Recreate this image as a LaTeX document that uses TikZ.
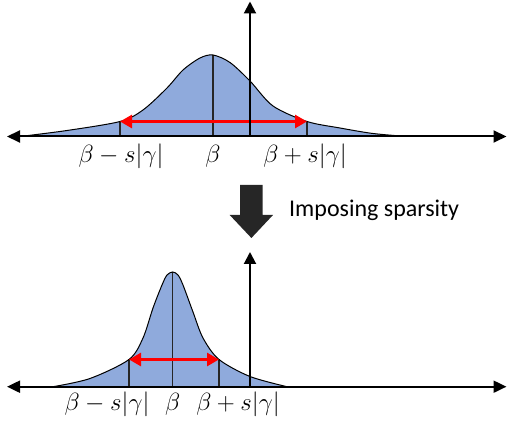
\documentclass[tikz,border=0pt]{standalone}
\usepackage{fontspec}
\usepackage{tikz}
\usetikzlibrary{arrows.meta}
\newfontfamily\carfont{Carlito}
\definecolor{pdfill}{RGB}{143,170,220}
\definecolor{pddark}{RGB}{38,38,38}

\begin{document}
\begin{tikzpicture}[
  x=1pt,y=-1pt,
  font=\fontsize{25}{30}\selectfont,
  axis/.style={line width=2pt,{Triangle[length=13pt,width=12pt]}-{Triangle[length=13pt,width=12pt]}},
  yaxis/.style={line width=2pt,-{Triangle[length=12pt,width=12pt]}},
  spread/.style={red,line width=2.7pt,{Triangle[length=12pt,width=13pt]}-{Triangle[length=12pt,width=13pt]}},
  cutline/.style={line width=1.2pt,black!85},
  bell/.style={line width=1pt},
  lbl/.style={anchor=base,inner sep=0pt}
]
  \useasboundingbox (0,0) rectangle (507,427);

  % wide prior
  \coordinate (tO) at (250,136.5);
  \coordinate (tP) at (213,55);
  \coordinate (tL) at (120,121.5);
  \coordinate (tR) at (307,121.5);
  \fill[pdfill] plot[smooth] coordinates {(20,136.5) (67,130.5) (120,121.5) (143,110) (167,88)
    (183,70) (200,58) (213,55) (230,62.5) (250,81) (273,106) (307,121.5) (340,128)
    (373,133.5) (407,136.5)} -- cycle;
  \draw[cutline] (tL) -- (tL |- tO);
  \draw[cutline] (tP) -- (tP |- tO);
  \draw[cutline] (tR) -- (tR |- tO);
  \draw[bell] plot[smooth] coordinates {(20,136.5) (67,130.5) (120,121.5) (143,110) (167,88)
    (183,70) (200,58) (213,55) (230,62.5) (250,81) (273,106) (307,121.5) (340,128)
    (373,133.5) (407,136.5)};
  \draw[spread] (tL) -- (tR);
  \coordinate (tW) at (7,136.5);
  \coordinate (tE) at (506.5,136.5);
  \coordinate (tN) at (250,1.5);
  \draw[yaxis] (tO) -- (tN);
  \draw[axis] (tW) -- (tE);
  \node[lbl] (tLlab) at (121,163) {$\beta - s|\gamma|$};
  \node[lbl] (tPlab) at (213,163) {$\beta$};
  \node[lbl] (tRlab) at (305,163) {$\beta + s|\gamma|$};

  % block arrow
  \fill[pddark] (240,185) -- (262.7,185) -- (262.7,215) -- (273,215) -- (251.4,238)
    -- (229.7,215) -- (240,215) -- cycle;
  \node[anchor=base west,inner sep=0pt,font=\carfont\fontsize{24}{28}\selectfont] (impo) at (289,217) {Imposing sparsity};

  % sparse prior
  \coordinate (bO) at (250,386.7);
  \coordinate (bP) at (172.7,272);
  \coordinate (bL) at (129,359.5);
  \coordinate (bR) at (219,359.5);
  \fill[pdfill] plot[smooth] coordinates {(53,386.7) (90,378.5) (129,359.5) (143,338) (153,308)
    (162,285) (167,275) (172.7,272) (178,275) (183,285) (193,312) (203,338) (219,359.5)
    (250,376.5) (287,386.7)} -- cycle;
  \draw[cutline] (bL) -- (bL |- bO);
  \draw[cutline] (bP) -- (bP |- bO);
  \draw[cutline] (bR) -- (bR |- bO);
  \draw[bell] plot[smooth] coordinates {(53,386.7) (90,378.5) (129,359.5) (143,338) (153,308)
    (162,285) (167,275) (172.7,272) (178,275) (183,285) (193,312) (203,338) (219,359.5)
    (250,376.5) (287,386.7)};
  \draw[spread] (bL) -- (bR);
  \coordinate (bW) at (7,386.7);
  \coordinate (bE) at (506.5,386.7);
  \coordinate (bN) at (250,252);
  \draw[yaxis] (bO) -- (bN);
  \draw[axis] (bW) -- (bE);
  \node[lbl] (bLlab) at (107,410.7) {$\beta - s|\gamma|$};
  \node[lbl] (bPlab) at (172.7,410.7) {$\beta$};
  \node[lbl] (bRlab) at (238,410.7) {$\beta + s|\gamma|$};
\end{tikzpicture}
\end{document}
